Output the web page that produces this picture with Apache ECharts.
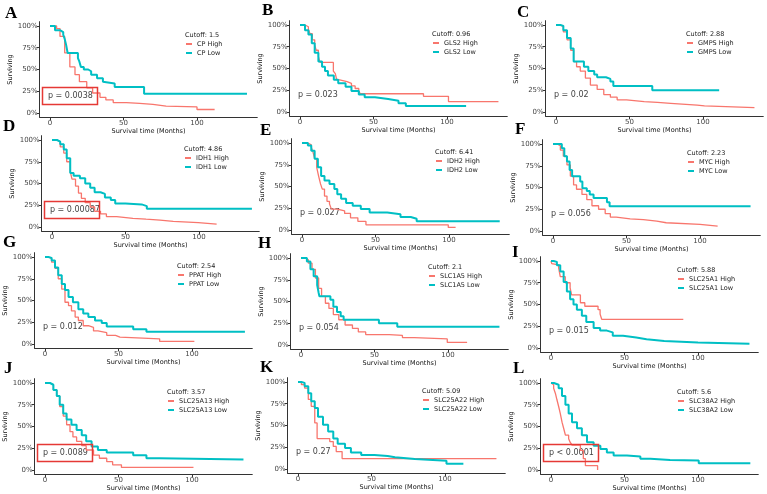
<!DOCTYPE html>
<html>
<head>
<meta charset="utf-8">
<script src="https://cdn.jsdelivr.net/npm/echarts@6/dist/echarts.min.js"></script>
<style>
  html, body { margin: 0; padding: 0; background: #fff; }
  #chart { width: 767px; height: 494px; }
</style>
</head>
<body>
<div id="chart"></div>
<script>
// panel data: [months, % surviving]
const letters = ['A', 'B', 'C', 'D', 'E', 'F', 'G', 'H', 'I', 'J', 'K', 'L']
const genes = ['CP', 'GLS2', 'GMPS', 'IDH1', 'IDH2', 'MYC', 'PPAT', 'SLC1A5', 'SLC25A1', 'SLC25A13', 'SLC25A22', 'SLC38A2']
const cutoffs = ['1.5', '0.96', '2.88', '4.86', '6.41', '2.23', '2.54', '2.1', '5.88', '3.57', '5.09', '5.6']
const pValues = ['p = 0.0038', 'p = 0.023', 'p = 0.02', 'p = 0.00087', 'p = 0.027', 'p = 0.056',
  'p = 0.012', 'p = 0.054', 'p = 0.015', 'p = 0.0089', 'p = 0.27', 'p < 0.0001']
const boxed = [true, false, false, true, false, false, false, false, false, true, false, true]
const xTicks = [0, 50, 100]
const yTicks = [0, 25, 50, 75, 100]

const cpHigh = [[0,100],[4.5,97],[6.8,88],[10,69],[13.5,53],[17,44],[20,36],[25,29],[29,23],[34,18],[38,15],[43,12],[52,11],[61,10],[70,8],[79,7],[100,4],[112,4]]
const cpLow = [[0,100],[3.4,95],[7,93],[9,90],[10,85],[11,78],[12,69],[19,63],[20,59],[21,53],[23,50],[26,48],[28,44],[32,40],[36,36],[37,34],[44,30],[64,22],[134,22]]
const gls2High = [[0,100],[3.4,98],[5.7,95],[6.8,90],[8.4,83],[10,77],[11,71],[12.5,64],[13.6,57],[22.7,47],[24,44],[25,37],[27,35],[32,33],[35,30],[37.5,27],[40,24],[41,21],[84,18],[101,12],[135,12]]
const gls2Low = [[0,100],[3.4,94],[5.7,89],[8,79],[10,68],[12.5,58],[15,52],[17,47],[19,42],[23,37],[26,33],[31,29],[35,24],[40,20],[44,17],[51,15],[60,13],[67,10],[72,7],[113,7]]
const gmpsHigh = [[0,100],[3,98],[5,92],[7.5,83],[10,71],[12,58],[14,52],[16.5,47],[20,39],[23.4,31],[28,26],[32.5,20],[37,17],[41.6,14],[48,12],[60,11],[69,10],[78,8],[96,7],[101,5],[135,5]]
const gmpsLow = [[0,100],[3,99],[5,94],[7.5,85],[10,73],[12,58],[19,52],[22,47],[26,43],[28,40],[34,38],[37,35],[39,30],[65.5,25],[111,25]]
const idh1High = [[0,100],[3.4,98],[5.6,92],[8,85],[10,75],[12.4,64],[13.6,55],[16,47],[18,39],[20,33],[22.6,28],[26,23],[29,18],[33,15],[37,12],[44,10],[55,9],[64,8],[73.5,6.5],[82.5,5],[99.5,3.4],[112,3.4]]
const idh1Low = [[0,100],[3.4,98],[5.6,95],[8,89],[10,79],[12.4,62],[14.7,59],[19,56],[22.6,50],[26,45],[29,40],[33,38],[36,34],[40,31],[43,27],[50,26],[61,24],[64.5,21],[136,21]]
const idh2High = [[0,100],[4,98],[6.3,95],[7.4,90],[8.6,82],[10,72],[11.3,62],[12.6,53],[13.8,47],[15.3,39],[17,33],[18.7,30],[20,24],[24,22],[29,19],[33,14],[38,10],[43.5,6],[99.5,3],[104.5,3]]
const idh2Low = [[0,100],[4,97],[6.3,91],[8.6,82],[10.8,72],[13,62],[15.3,57],[18.7,53],[22,47],[24,41],[26.6,36],[30,31],[34.5,28],[40,24],[46,20],[58,18],[67,15],[74,13],[78,10],[134.5,10]]
const mycHigh = [[0,100],[2.7,98],[5,93],[7,86],[9.5,76],[11.8,63],[14,53],[16,48],[19.7,42],[23,36],[26.5,29],[31,25],[35.5,20],[39,16],[43,14],[52.5,13],[61.5,11.4],[70.6,9.5],[77,7.6],[100,5.7],[112,5.7]]
const mycLow = [[0,100],[6,95],[7.7,86],[9.5,80],[11.3,70],[13,63],[18.5,57],[20,49],[23,46],[25,42],[27.6,38],[36.7,33],[38.5,28.5],[134.4,28.5]]
const ppatHigh = [[0,100],[2.3,98],[4.5,94],[6.8,87],[9,75],[11.4,63],[13.6,48],[16,44],[18,38],[20.5,31],[22.7,27],[26,21],[29.5,19],[33,15],[36,13],[42,10],[48,8],[51,6],[78,3],[101.6,3]]
const ppatLow = [[0,100],[2.3,99],[4.5,96],[6.8,88],[9,79],[11.4,69],[13.6,62],[16,54],[19,48],[22.7,40],[26,35],[29.5,31],[34,27],[38.6,24],[42,20],[60,17],[69,14],[136,14]]
const slc1a5High = [[0,100],[3,98],[5,94],[7.5,87],[9.8,77],[12,65],[14,56],[16.6,48],[19,42],[22,35],[25.7,29],[30,23],[35,19],[39,15],[44,12],[60,11],[69,8.5],[77,7],[99.5,3],[113,3]]
const slc1a5Low = [[0,100],[4,96],[6.4,87],[8.6,79],[11,69],[12,60],[12.5,56],[20,52],[22,44],[24.5,38],[27,33],[29,29],[53,25],[65.5,21],[135,21]]
const slc25a1High = [[0,100],[0.5,97],[1.8,95.5],[5.2,92],[6.3,82],[9.7,75],[13,69],[14,61],[20,52],[23,48],[32,44],[33.4,39],[34.5,33],[90,33]]
const slc25a1Low = [[0,100],[1.8,99],[4,95],[6.3,88],[8.6,76],[10.8,65],[13,56],[15.3,50],[17.6,44],[21,37],[24,30],[29,23],[33.4,20],[38,18],[42,14],[49,12],[58,10],[65,8],[77,6.4],[100,5],[135,5]]
const slc25a13High = [[0,100],[3.4,98],[5.7,92],[8,85],[10,73],[12.4,62],[14.7,52],[17,44],[19,38],[21.5,33],[25,28],[28,23],[33,17],[37,13.5],[42,9.6],[46,6],[52,3],[101,3]]
const slc25a13Low = [[0,100],[3.4,98],[5.7,92],[8,85],[10,75],[12.4,65],[14.7,58],[18,52],[21.5,46],[25,40],[28,33],[31.7,27],[36,23],[42,20],[60,17],[69,13.5],[78,12],[135,12]]
const slc25a22High = [[0,100],[2.3,97],[4.5,93],[7,80],[9,72],[11.4,53],[13,35],[21.6,31.5],[24,26],[26,20],[30,12],[135,12]]
const slc25a22Low = [[0,100],[2.3,99],[4.5,95],[7,87],[9,78],[11.4,70],[13.6,60],[17,51],[20.5,43],[24,35],[27,29],[32,24],[36,19],[43,16],[52,15],[61,13.5],[66,11.5],[79.5,9.6],[101,6],[112.5,6]]
const slc38a2High = [[0,100],[1,98],[1.8,94],[3,88],[4,81],[5.2,73],[6.3,65],[7.5,55],[8.6,48],[9.8,40],[12,36],[13,32],[14.3,28.5],[20,22.5],[22,13],[23.4,5],[31.7,0]]
const slc38a2Low = [[0,100],[2,98],[5.2,94],[7.5,85],[9.8,75],[12,65],[14.3,55],[17.7,48],[21,40],[24.5,32],[29,28],[33.6,24],[38,20],[42.6,16.7],[51.7,15.5],[60.8,12.8],[67.6,11.6],[81,10.9],[100.5,7.8],[135.6,7.8]]

const highCurves = [cpHigh, gls2High, gmpsHigh, idh1High, idh2High, mycHigh, ppatHigh, slc1a5High, slc25a1High, slc25a13High, slc25a22High, slc38a2High]
const lowCurves = [cpLow, gls2Low, gmpsLow, idh1Low, idh2Low, mycLow, ppatLow, slc1a5Low, slc25a1Low, slc25a13Low, slc25a22Low, slc38a2Low]

// layout, in pixels: where month 0 and 100% sit in each panel
const x0s = [50, 300, 556, 52, 302, 553, 45, 301, 551, 45, 298, 551]
const y100s = [26, 25, 25, 140, 143, 144, 257, 258, 261, 383, 382, 383]
const legendLefts = [185, 432, 686, 184, 435, 687, 177, 428, 677, 167, 422, 677]
const letterPos = [[5,14],[262,11],[517,13],[3,127],[260,131],[515,130],[3,243],[258,244],[512,253],[4,369],[260,368],[513,369]]
const PX_MONTH = 1.47
const PX_PCT = 0.87

const RED = '#F8766D'
const CYAN = '#00BFC4'
const FONT = 'DejaVu Sans'
const axisColor = '#333'

const grids = [], xAxes = [], yAxes = [], series = [], legends = [], graphics = []

genes.forEach((gene, i) => {
  const x0 = x0s[i]
  const y100 = y100s[i]
  grids.push({
    left: x0 - 7 * PX_MONTH,
    top: y100 - 5 * PX_PCT,
    width: 148 * PX_MONTH,
    height: 110 * PX_PCT,
    containLabel: false,
    outerBoundsMode: 'none'
  })
  xAxes.push({
    gridIndex: i, type: 'value', min: -7, max: 141,
    name: 'Survival time (Months)', nameLocation: 'middle', nameGap: 10,
    nameTextStyle: { fontSize: 6.5, fontFamily: FONT, color: '#111' },
    axisLine: { onZero: false, lineStyle: { color: axisColor, width: 1 } },
    axisTick: { customValues: xTicks, length: 3, lineStyle: { color: axisColor } },
    axisLabel: { customValues: xTicks, margin: 2, fontSize: 7, fontFamily: FONT, color: '#444' },
    splitLine: { show: false }
  })
  yAxes.push({
    gridIndex: i, type: 'value', min: -5, max: 105,
    name: 'Surviving', nameLocation: 'middle', nameGap: 23,
    nameTextStyle: { fontSize: 6.5, fontFamily: FONT, color: '#111' },
    axisLine: { show: true, onZero: false, lineStyle: { color: axisColor, width: 1 } },
    axisTick: { show: true, customValues: yTicks, length: 3, lineStyle: { color: axisColor } },
    axisLabel: { customValues: yTicks, margin: 2, fontSize: 7, fontFamily: FONT, color: '#444', formatter: v => v + '%' },
    splitLine: { show: false }
  })
  series.push({
    name: gene + ' High', type: 'line', step: 'end', xAxisIndex: i, yAxisIndex: i,
    data: highCurves[i], showSymbol: false, color: RED,
    lineStyle: { color: RED, width: 1.3 }
  })
  series.push({
    name: gene + ' Low', type: 'line', step: 'end', xAxisIndex: i, yAxisIndex: i,
    data: lowCurves[i], showSymbol: false, color: CYAN,
    lineStyle: { color: CYAN, width: 2 }
  })
  legends.push({
    data: [gene + ' High', gene + ' Low'],
    orient: 'vertical', left: legendLefts[i] + 1, top: y100 + 14,
    padding: 0, itemGap: 1, itemWidth: 6, itemHeight: 2, icon: 'rect',
    selectedMode: false,
    textStyle: { fontSize: 6.5, fontFamily: FONT, color: '#222', lineHeight: 8 }
  })
  graphics.push({
    type: 'text', x: legendLefts[i], y: y100 + 9.5,
    style: { text: 'Cutoff: ' + cutoffs[i], font: '6.5px "DejaVu Sans"', fill: '#222', verticalAlign: 'middle' }
  })
  graphics.push({
    type: 'text', x: x0 - 2, y: y100 + 70,
    style: { text: pValues[i], font: '8px "DejaVu Sans"', fill: '#444', verticalAlign: 'middle' }
  })
  graphics.push({
    type: 'text', x: letterPos[i][0], y: letterPos[i][1],
    style: { text: letters[i], font: 'bold 17px "Liberation Serif"', fill: '#000', verticalAlign: 'middle' }
  })
  if (boxed[i]) {
    graphics.push({
      type: 'rect', z: 100,
      shape: { x: x0 - 7.5, y: y100 + 61.5, width: 55, height: 17 },
      style: { fill: 'none', stroke: '#E53935', lineWidth: 1.5 }
    })
  }
})

const myChart = echarts.init(document.getElementById('chart'))
myChart.setOption({
  animation: false,
  backgroundColor: '#fff',
  grid: grids,
  xAxis: xAxes,
  yAxis: yAxes,
  legend: legends,
  series: series,
  graphic: graphics
})
</script>
</body>
</html>
